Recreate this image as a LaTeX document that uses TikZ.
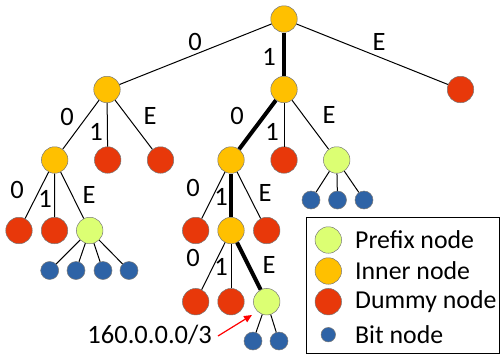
\documentclass[tikz,border=0pt]{standalone}
\usepackage{fontspec}
\setmainfont{Carlito}
\usetikzlibrary{arrows.meta}
\definecolor{cyel}{RGB}{255,192,0}
\definecolor{cred}{RGB}{232,56,10}
\definecolor{cgrn}{RGB}{220,255,115}
\definecolor{cblu}{RGB}{46,99,166}
\definecolor{cout}{RGB}{120,120,120}
\tikzset{
  nd/.style={circle,draw=cout,line width=0.5pt,minimum size=26.5pt,inner sep=0pt},
  innernd/.style={nd,fill=cyel},
  dummynd/.style={nd,fill=cred},
  prefixnd/.style={nd,fill=cgrn},
  bitnd/.style={circle,draw=cout,line width=0.5pt,fill=cblu,minimum size=18pt,inner sep=0pt},
  lbitnd/.style={circle,draw=cout,line width=0.5pt,fill=cblu,minimum size=14.5pt,inner sep=0pt},
  conn/.style={line width=1pt},
  thickconn/.style={line width=4pt},
  lab/.style={font=\fontsize{26.5}{31}\selectfont,inner sep=0pt},
  leglab/.style={font=\fontsize{25.8}{30}\selectfont,inner sep=0pt,anchor=west},
}
\begin{document}
\begin{tikzpicture}[x=1pt,y=-1pt]
\useasboundingbox (0,0) rectangle (504,354);
% nodes
\node[innernd] (r) at (284,19) {};
\node[innernd] (a) at (107,89.5) {};
\node[innernd] (b) at (284,89.5) {};
\node[dummynd] (c) at (460.5,89.5) {};
\node[innernd] (a0) at (54.7,160) {};
\node[dummynd] (a1) at (107.7,160) {};
\node[dummynd] (aE) at (160.5,160) {};
\node[innernd] (b0) at (231,160) {};
\node[dummynd] (b1) at (284,160) {};
\node[prefixnd] (bE) at (336.7,160) {};
\node[dummynd] (a00) at (19,230.5) {};
\node[dummynd] (a01) at (54.5,230.5) {};
\node[prefixnd] (a0E) at (89.7,230.5) {};
\node[dummynd] (b00) at (195.7,230.5) {};
\node[innernd] (b01) at (231,230.5) {};
\node[dummynd] (b0E) at (266.7,230.5) {};
\node[dummynd] (c0) at (195.7,301.7) {};
\node[dummynd] (c1) at (231,301.7) {};
\node[prefixnd] (cE) at (266.7,301.7) {};
% bit nodes
\node[bitnd] (p1) at (49.7,270.5) {};
\node[bitnd] (p2) at (76,270.5) {};
\node[bitnd] (p3) at (103,270.5) {};
\node[bitnd] (p4) at (129,270.5) {};
\node[bitnd] (q1) at (311,200) {};
\node[bitnd] (q2) at (337.5,200) {};
\node[bitnd] (q3) at (364,200) {};
\node[bitnd] (s1) at (253,341) {};
\node[bitnd] (s2) at (279,341) {};
% edges
\draw[conn] (r) -- (a);
\draw[thickconn] (r) -- (b);
\draw[conn] (r) -- (c);
\draw[conn] (a) -- (a0);
\draw[conn] (a) -- (a1);
\draw[conn] (a) -- (aE);
\draw[thickconn] (b) -- (b0);
\draw[conn] (b) -- (b1);
\draw[conn] (b) -- (bE);
\draw[conn] (a0) -- (a00);
\draw[conn] (a0) -- (a01);
\draw[conn] (a0) -- (a0E);
\draw[conn] (b0) -- (b00);
\draw[thickconn] (b0) -- (b01);
\draw[conn] (b0) -- (b0E);
\draw[conn] (b01) -- (c0);
\draw[conn] (b01) -- (c1);
\draw[thickconn] (b01) -- (cE);
\foreach \x in {p1,p2,p3,p4} \draw[conn] (a0E) -- (\x);
\foreach \x in {q1,q2,q3} \draw[conn] (bE) -- (\x);
\foreach \x in {s1,s2} \draw[conn] (cE) -- (\x);
% edge labels
\node[lab] (l1) at (195,42) {0};
\node[lab] (l2) at (269,57) {1};
\node[lab] (l3) at (379,42) {E};
\node[lab] (l4) at (67,117) {0};
\node[lab] (l5) at (96,132) {1};
\node[lab] (l6) at (150,116) {E};
\node[lab] (l7) at (237,116) {0};
\node[lab] (l8) at (272,132) {1};
\node[lab] (l9) at (329,115) {E};
\node[lab] (l10) at (17,190) {0};
\node[lab] (l11) at (45,199) {1};
\node[lab] (l12) at (89,195) {E};
\node[lab] (l13) at (193,188) {0};
\node[lab] (l14) at (221,197) {1};
\node[lab] (l15) at (265,193) {E};
\node[lab] (l16) at (193,258) {0};
\node[lab] (l17) at (221,267) {1};
\node[lab] (l18) at (269,265) {E};
% prefix annotation
\node[lab,anchor=east] (pfx) at (212,335) {160.0.0.0/3};
\coordinate (ah) at (252,315);
\coordinate (at) at (218,336);
\draw[red,line width=1.2pt,-{Triangle[length=8pt,width=7pt]}] (at) -- (ah);
% legend
\node[draw=black,line width=0.8pt,minimum width=193pt,minimum height=135.5pt,inner sep=0pt,anchor=north west] (leg) at (306,217) {};
\node[prefixnd] (g1) at (328.3,240) {};
\node[innernd] (g2) at (328.3,271) {};
\node[dummynd] (g3) at (328.3,301.7) {};
\node[lbitnd] (g4) at (328.3,334.7) {};
\node[leglab] (t1) at (355,240) {Prefix node};
\node[leglab] (t2) at (355,271) {Inner node};
\node[leglab] (t3) at (355,301.7) {Dummy node};
\node[leglab] (t4) at (355,334.7) {Bit node};
\end{tikzpicture}
\end{document}
